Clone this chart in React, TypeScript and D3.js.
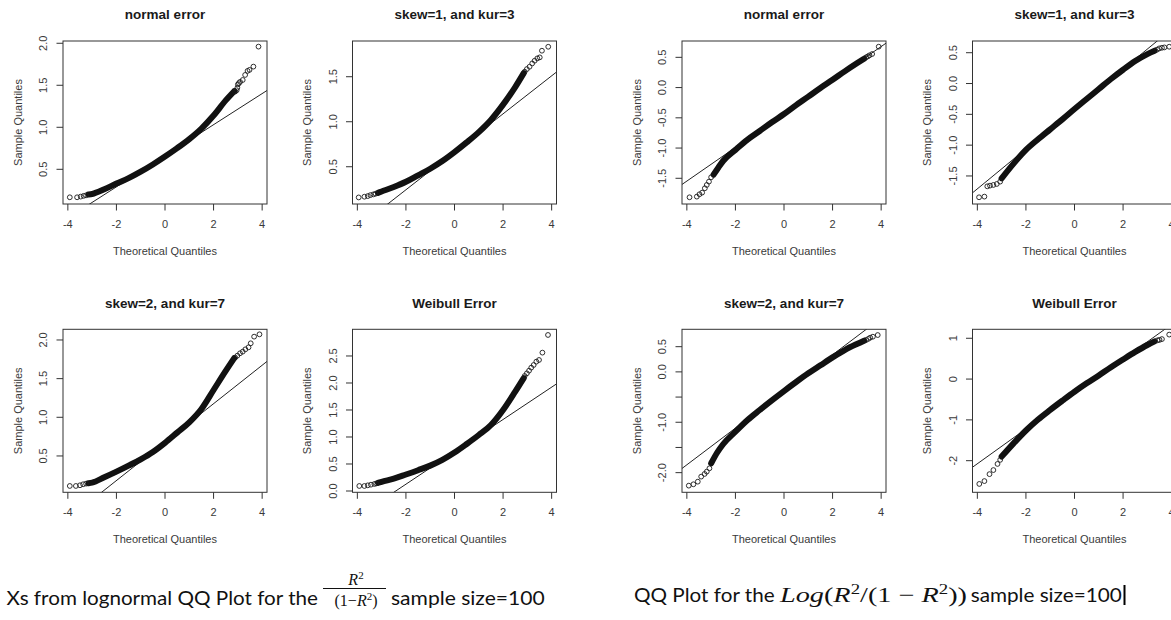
import React from "react";
import * as d3 from "d3";

type Pt = [number, number];

// ---------- DATA ----------
const panelTitles = [
  "normal error",
  "skew=1, and kur=3",
  "normal error",
  "skew=1, and kur=3",
  "skew=2, and kur=7",
  "Weibull Error",
  "skew=2, and kur=7",
  "Weibull Error",
];

const xTicks = [-4, -2, 0, 2, 4];
const xTickLabels = ["-4", "-2", "0", "2", "4"];
const xDomain: Pt = [-4.2, 4.2];

const yDomains: Pt[] = [
  [0.087, 2.027],
  [0.086, 1.897],
  [-1.925, 0.77],
  [-1.955, 0.69],
  [0.03, 2.138],
  [-0.024, 2.994],
  [-2.39, 0.845],
  [-2.775, 1.22],
];

const yTicks: number[][] = [
  [0.5, 1, 1.5, 2],
  [0.5, 1, 1.5],
  [-1.5, -1, -0.5, 0, 0.5],
  [-1.5, -1, -0.5, 0, 0.5],
  [0.5, 1, 1.5, 2],
  [0, 0.5, 1, 1.5, 2, 2.5],
  [-2, -1.5, -1, -0.5, 0, 0.5],
  [-2, -1, 0, 1],
];

const yTickLabels: string[][] = [
  ["0.5", "1.0", "1.5", "2.0"],
  ["0.5", "1.0", "1.5"],
  ["-1.5", "-1.0", "-0.5", "0.0", "0.5"],
  ["-1.5", "-1.0", "-0.5", "0.0", "0.5"],
  ["0.5", "1.0", "1.5", "2.0"],
  ["0.0", "0.5", "1.0", "1.5", "2.0", "2.5"],
  ["-2.0", "", "-1.0", "", "0.0", "0.5"],
  ["-2", "-1", "0", "1"],
];

// qqline: intercept and slope
const lineIntercepts = [0.661, 0.666, -0.434, -0.413, 0.679, 0.725, -0.388, -0.367];
const lineSlopes = [0.185, 0.211, 0.278, 0.324, 0.2485, 0.2995, 0.364, 0.427];

// dense part of each QQ cloud: [theoretical, sample]
const rawNormalBody: Pt[] = [
  [-3.15, 0.2], [-3, 0.206], [-2.5, 0.262], [-2, 0.33], [-1.5, 0.395], [-1, 0.472],
  [-0.5, 0.558], [0, 0.652], [0.5, 0.752], [1, 0.86], [1.5, 0.985], [2, 1.14],
  [2.5, 1.32], [2.85, 1.43],
];
const rawNormalTail: Pt[] = [
  [-3.92, 0.167], [-3.62, 0.167], [-3.47, 0.175], [-3.35, 0.184], [-3.25, 0.19],
  [2.89, 1.425], [2.95, 1.44], [2.98, 1.47], [3.0, 1.51], [3.04, 1.525], [3.09, 1.54],
  [3.2, 1.563], [3.3, 1.623], [3.4, 1.671], [3.48, 1.683], [3.64, 1.722], [3.85, 1.96],
];

const rawSkew1Body: Pt[] = [
  [-3.15, 0.21], [-3, 0.225], [-2.5, 0.275], [-2, 0.333], [-1.5, 0.405], [-1, 0.478],
  [-0.5, 0.563], [0, 0.662], [0.5, 0.77], [1, 0.885], [1.5, 1.02], [2, 1.19],
  [2.5, 1.385], [2.85, 1.54],
];
const rawSkew1Tail: Pt[] = [
  [-3.945, 0.159], [-3.71, 0.167], [-3.57, 0.174], [-3.46, 0.185], [-3.34, 0.193], [-3.25, 0.2],
  [2.89, 1.556], [2.98, 1.585], [3.09, 1.611], [3.2, 1.648], [3.3, 1.678], [3.41, 1.704],
  [3.51, 1.715], [3.6, 1.789], [3.86, 1.833],
];

const logNormalBody: Pt[] = [
  [-2.9, -1.44], [-2.7, -1.32], [-2.5, -1.21], [-2, -1.03], [-1.5, -0.86], [-1, -0.718],
  [-0.5, -0.574], [0, -0.437], [0.5, -0.29], [1, -0.15], [1.5, -0.007], [2, 0.128],
  [2.5, 0.268], [3, 0.401], [3.3, 0.478],
];
const logNormalTail: Pt[] = [
  [-3.0, -1.483], [-3.09, -1.555], [-3.18, -1.61], [-3.26, -1.665], [-3.37, -1.737],
  [-3.48, -1.764], [-3.59, -1.803], [-3.89, -1.814],
  [3.38, 0.5], [3.45, 0.515], [3.52, 0.533], [3.63, 0.555], [3.9, 0.676],
];

const logSkew1Body: Pt[] = [
  [-3.0, -1.538], [-2.5, -1.295], [-2, -1.078], [-1.5, -0.905], [-1, -0.743],
  [-0.5, -0.581], [0, -0.414], [0.5, -0.251], [1, -0.089], [1.5, 0.073], [2, 0.224],
  [2.5, 0.365], [3, 0.478], [3.3, 0.532],
];
const logSkew1Tail: Pt[] = [
  [-3.06, -1.592], [-3.2, -1.63], [-3.34, -1.646], [-3.48, -1.657], [-3.59, -1.668],
  [-3.71, -1.835], [-3.93, -1.846],
  [3.4, 0.55], [3.49, 0.57], [3.6, 0.58], [3.7, 0.586], [3.9, 0.597],
];

const rawSkew2Body: Pt[] = [
  [-3.15, 0.148], [-3, 0.155], [-2.5, 0.224], [-2, 0.297], [-1.5, 0.375], [-1, 0.457],
  [-0.5, 0.552], [0, 0.67], [0.5, 0.802], [1, 0.935], [1.5, 1.108], [2, 1.353],
  [2.5, 1.6], [2.85, 1.765],
];
const rawSkew2Tail: Pt[] = [
  [-3.92, 0.112], [-3.67, 0.112], [-3.5, 0.121], [-3.37, 0.134], [-3.25, 0.142],
  [2.89, 1.772], [2.98, 1.797], [3.09, 1.828], [3.2, 1.849], [3.31, 1.879],
  [3.44, 1.905], [3.53, 1.957], [3.67, 2.043], [3.89, 2.073],
];

const rawWeibullBody: Pt[] = [
  [-3.15, 0.15], [-3, 0.17], [-2.5, 0.228], [-2, 0.305], [-1.5, 0.385], [-1, 0.47],
  [-0.5, 0.577], [0, 0.712], [0.5, 0.87], [1, 1.037], [1.5, 1.222], [2, 1.5],
  [2.5, 1.84], [2.85, 2.09],
];
const rawWeibullTail: Pt[] = [
  [-3.92, 0.093], [-3.71, 0.093], [-3.57, 0.105], [-3.44, 0.117], [-3.3, 0.13], [-3.22, 0.14],
  [2.89, 2.13], [2.98, 2.179], [3.07, 2.228], [3.16, 2.284], [3.26, 2.333], [3.37, 2.395],
  [3.48, 2.426], [3.62, 2.562], [3.85, 2.889],
];

const logSkew2Body: Pt[] = [
  [-3.0, -1.815], [-2.75, -1.6], [-2.5, -1.431], [-2, -1.187], [-1.5, -0.955],
  [-1, -0.757], [-0.5, -0.565], [0, -0.38], [0.5, -0.201], [1, -0.029], [1.5, 0.13],
  [2, 0.288], [2.5, 0.434], [3, 0.553], [3.3, 0.619],
];
const logSkew2Tail: Pt[] = [
  [-3.07, -1.914], [-3.18, -1.98], [-3.27, -2.026], [-3.41, -2.079], [-3.55, -2.179],
  [-3.73, -2.231], [-3.92, -2.258],
  [3.38, 0.632], [3.47, 0.655], [3.55, 0.679], [3.66, 0.698], [3.86, 0.731],
];

const logWeibullBody: Pt[] = [
  [-3.0, -1.9], [-2.5, -1.57], [-2, -1.26], [-1.5, -0.99], [-1, -0.755], [-0.5, -0.53],
  [0, -0.31], [0.5, -0.105], [1, 0.09], [1.5, 0.29], [2, 0.48], [2.5, 0.665],
  [3, 0.835], [3.3, 0.925],
];
const logWeibullTail: Pt[] = [
  [-3.06, -1.98], [-3.17, -2.08], [-3.34, -2.23], [-3.5, -2.33], [-3.71, -2.5], [-3.92, -2.57],
  [3.42, 0.95], [3.5, 0.96], [3.6, 0.98], [3.9, 1.09],
];

const bodies = [rawNormalBody, rawSkew1Body, logNormalBody, logSkew1Body, rawSkew2Body, rawWeibullBody, logSkew2Body, logWeibullBody];
const tails = [rawNormalTail, rawSkew1Tail, logNormalTail, logSkew1Tail, rawSkew2Tail, rawWeibullTail, logSkew2Tail, logWeibullTail];

const xAxisTitle = "Theoretical Quantiles";
const yAxisTitle = "Sample Quantiles";

// ---------- LAYOUT ----------
const W = 1171;
const H = 620;
const COL_LEFT = [63, 352.5, 682, 972.5];
const ROW_TOP = [41, 329.3];
const BOX_W = 204;
const BOX_H = 163;
const AXIS_FONT = "'Liberation Sans', Arial, Helvetica, sans-serif";
const TEXT_COL = "#3a3a3a";

function Panel({ i }: { i: number }) {
  const col = i % 4;
  const row = Math.floor(i / 4);
  const L = COL_LEFT[col];
  const T = ROW_TOP[row];
  const x = d3.scaleLinear().domain(xDomain).range([L, L + BOX_W]);
  const y = d3.scaleLinear().domain(yDomains[i]).range([T + BOX_H, T]);
  const straight = d3.line<Pt>().x((d) => x(d[0])).y((d) => y(d[1]));
  const band = d3
    .line<Pt>()
    .x((d) => x(d[0]))
    .y((d) => y(d[1]))
    .curve(d3.curveMonotoneX);
  const qq: Pt[] = xDomain.map((v) => [v, lineIntercepts[i] + lineSlopes[i] * v] as Pt);
  const B = T + BOX_H;
  const clipId = `clip-${i}`;
  return (
    <g>
      <defs>
        <clipPath id={clipId}>
          <rect x={L} y={T} width={BOX_W} height={BOX_H} />
        </clipPath>
      </defs>
      <path d={straight(qq) || ""} stroke="#222" strokeWidth={1} fill="none" clipPath={`url(#${clipId})`} />
      <path
        d={band(bodies[i]) || ""}
        stroke="#111"
        strokeWidth={6}
        fill="none"
        strokeLinecap="round"
        strokeLinejoin="round"
      />
      {tails[i].map((d, k) => (
        <circle key={k} cx={x(d[0])} cy={y(d[1])} r={2.4} fill="none" stroke="#1a1a1a" strokeWidth={0.9} />
      ))}
      <rect x={L} y={T} width={BOX_W} height={BOX_H} fill="none" stroke="#333" strokeWidth={1} />
      {/* x axis */}
      {xTicks.map((v, k) => (
        <g key={k}>
          <line x1={x(v)} x2={x(v)} y1={B} y2={B + 6.5} stroke="#333" strokeWidth={1} />
          <text
            x={x(v)}
            y={B + 24}
            textAnchor="middle"
            fontFamily={AXIS_FONT}
            fontSize={11}
            fill={TEXT_COL}
          >
            {xTickLabels[k]}
          </text>
        </g>
      ))}
      {/* y axis */}
      {yTicks[i].map((v, k) => (
        <g key={k}>
          <line x1={L - 6.5} x2={L} y1={y(v)} y2={y(v)} stroke="#333" strokeWidth={1} />
          {yTickLabels[i][k] !== "" && (
            <text
              transform={`translate(${L - 16},${y(v)}) rotate(-90)`}
              textAnchor="middle"
              fontFamily={AXIS_FONT}
              fontSize={11}
              fill={TEXT_COL}
            >
              {yTickLabels[i][k]}
            </text>
          )}
        </g>
      ))}
      <text
        x={L + BOX_W / 2}
        y={T - 21.7}
        textAnchor="middle"
        fontFamily={AXIS_FONT}
        fontWeight="bold"
        fontSize={13.5}
        fill="#1a1a1a"
      >
        {panelTitles[i]}
      </text>
      <text
        x={L + BOX_W / 2}
        y={B + 51}
        textAnchor="middle"
        fontFamily={AXIS_FONT}
        fontSize={11}
        fill={TEXT_COL}
      >
        {xAxisTitle}
      </text>
      <text
        transform={`translate(${L - 41.5},${T + BOX_H / 2}) rotate(-90)`}
        textAnchor="middle"
        fontFamily={AXIS_FONT}
        fontSize={11}
        fill={TEXT_COL}
      >
        {yAxisTitle}
      </text>
    </g>
  );
}

const CAP_FONT = "Lato, 'Open Sans', 'Noto Sans', sans-serif";
const MATH_FONT = "'Liberation Serif', 'DejaVu Serif', serif";

export default function App() {
  const idx = d3.range(8);
  return (
    <svg
      width={W}
      height={H}
      viewBox={`0 0 ${W} ${H}`}
      style={{ position: "absolute", left: 0, top: 0, display: "block" }}
    >
      <rect x={0} y={0} width={W} height={H} fill="#fff" />
      {idx.map((i) => (
        <Panel key={i} i={i} />
      ))}

      {/* left caption */}
      <text x={6.4} y={605} fontFamily={CAP_FONT} fontSize={20} fill="#111" textLength={311.6} lengthAdjust="spacingAndGlyphs">
        Xs from lognormal QQ Plot for the
      </text>
      <text x={356} y={585} textAnchor="middle" fontFamily={MATH_FONT} fontSize={16} fill="#111">
        <tspan fontStyle="italic">R</tspan>
        <tspan fontSize={11} dy={-6}>2</tspan>
      </text>
      <line x1={323} x2={386} y1={588.5} y2={588.5} stroke="#111" strokeWidth={1} />
      <text x={356} y={605.5} fontFamily={MATH_FONT} fontSize={16} fill="#111" textAnchor="middle">
        <tspan>(1−</tspan>
        <tspan fontStyle="italic">R</tspan>
        <tspan fontSize={11} dy={-6}>2</tspan>
        <tspan dy={6}>)</tspan>
      </text>
      <text x={391} y={605} fontFamily={CAP_FONT} fontSize={20} fill="#111" textLength={153.6} lengthAdjust="spacingAndGlyphs">
        sample size=100
      </text>

      {/* right caption */}
      <text x={634} y={602} fontFamily={CAP_FONT} fontSize={20} fill="#111" textLength={140.6} lengthAdjust="spacingAndGlyphs">
        QQ Plot for the
      </text>
      <text x={780} y={602} fontFamily={MATH_FONT} fontSize={21} fill="#111" textLength={187} lengthAdjust="spacingAndGlyphs">
        <tspan fontStyle="italic">Log</tspan>
        <tspan>(</tspan>
        <tspan fontStyle="italic">R</tspan>
        <tspan fontSize={14} dy={-8}>2</tspan>
        <tspan dy={8}>/(1 − </tspan>
        <tspan fontStyle="italic">R</tspan>
        <tspan fontSize={14} dy={-8}>2</tspan>
        <tspan dy={8}>))</tspan>
      </text>
      <text x={970.7} y={602} fontFamily={CAP_FONT} fontSize={20} fill="#111" textLength={151} lengthAdjust="spacingAndGlyphs">
        sample size=100
      </text>
      <rect x={1123.5} y={585} width={2} height={20} fill="#000" />
    </svg>
  );
}
